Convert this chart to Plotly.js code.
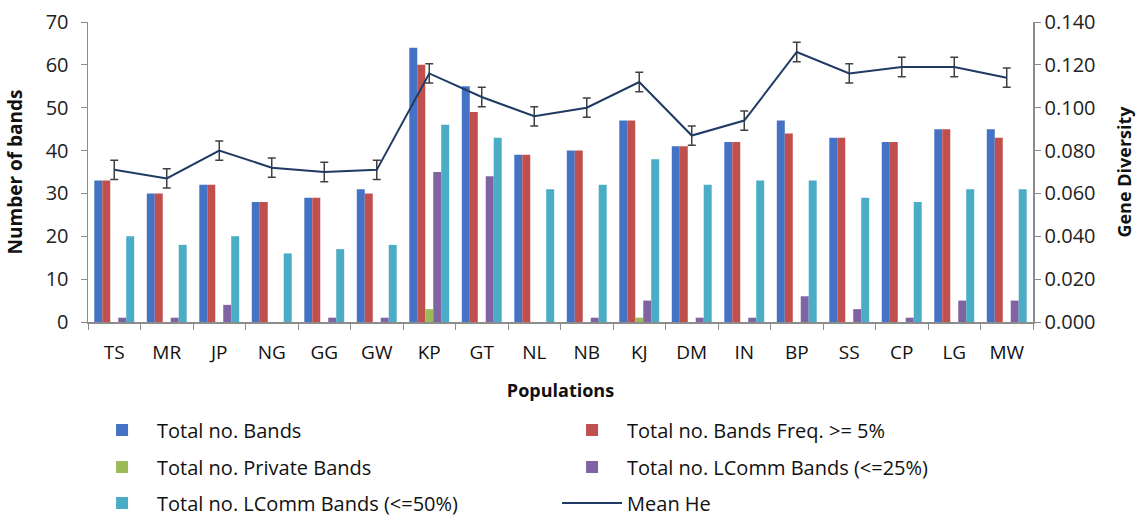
<!DOCTYPE html>
<html><head><meta charset="utf-8">
<script src="https://cdn.plot.ly/plotly-3.0.1.min.js"></script>
<style>body{margin:0;background:#fff}#c{width:1148px;height:519px}</style>
</head><body><div id="c"></div>
<script>
const populations = ["TS","MR","JP","NG","GG","GW","KP","GT","NL","NB","KJ","DM","IN","BP","SS","CP","LG","MW"];
const totalBands   = [33,30,32,28,29,31,64,55,39,40,47,41,42,47,43,42,45,45];
const bandsFreq5   = [33,30,32,28,29,30,60,49,39,40,47,41,42,44,43,42,45,43];
const privateBands = [0,0,0,0,0,0,3,0,0,0,1,0,0,0,0,0,0,0];
const lcomm25      = [1,1,4,0,1,1,35,34,0,1,5,1,1,6,3,1,5,5];
const lcomm50      = [20,18,20,16,17,18,46,43,31,32,38,32,33,33,29,28,31,31];
const meanHe       = [0.071,0.067,0.080,0.072,0.070,0.071,0.116,0.105,0.096,0.100,0.112,0.087,0.094,0.126,0.116,0.119,0.119,0.114];
const heErr        = [0.0045,0.0045,0.0045,0.0045,0.0045,0.0045,0.0045,0.0045,0.0045,0.0045,0.0045,0.0045,0.0045,0.0045,0.0045,0.0045,0.0045,0.0045];

const font = "Open Sans, Noto Sans, sans-serif";
function bar(name, y, color, leg){
  return {type:"bar", name:name, x:populations, y:y, marker:{color:color}, yaxis:"y", legend:leg};
}
const data = [
  bar("Total no. Bands", totalBands, "#4472C4", "legend"),
  bar("Total no. Bands Freq. >= 5%", bandsFreq5, "#C0504D", "legend"),
  bar("Total no. Private Bands", privateBands, "#9BBB59", "legend2"),
  bar("Total no. LComm Bands (<=25%)", lcomm25, "#8064A2", "legend2"),
  bar("Total no. LComm Bands (<=50%)", lcomm50, "#4BACC6", "legend3"),
  {type:"scatter", mode:"lines", name:"Mean He", x:populations, y:meanHe, yaxis:"y2", legend:"legend3",
   line:{color:"#1F3A63", width:2},
   error_y:{type:"data", array:heErr, visible:true, color:"#404040", thickness:1.5, width:4}}
];
const axisCol = "#8C8C8C";
function leg(y){
  return {orientation:"h", x:-0.001, xanchor:"left", y:y, yanchor:"middle",
          entrywidth:395, entrywidthmode:"pixels", traceorder:"normal",
          font:{size:20, color:"#111", family:font}, itemwidth:60, bgcolor:"rgba(0,0,0,0)"};
}
const layout = {
  width:1148, height:519,
  margin:{l:88, r:115, t:22, b:197, autoexpand:false},
  paper_bgcolor:"#fff", plot_bgcolor:"#fff",
  font:{family:font, size:18, color:"#222"},
  barmode:"group", bargap:0.24, bargroupgap:0,
  showlegend:true,
  xaxis:{range:[-0.5,17.5], showline:true, linecolor:axisCol, linewidth:1.5, ticks:"outside", ticklen:6, tickcolor:axisCol,
         tickson:"boundaries", showgrid:false, ticklabelstandoff:13, automargin:false,
         tickfont:{size:19, color:"#111"},
         title:{text:"<b>Populations</b>", font:{size:18, color:"#111"}, standoff:20}},
  yaxis:{range:[0,70], dtick:10, showline:true, linecolor:axisCol, linewidth:1.5, ticks:"outside", ticklen:6,
         tickcolor:axisCol, showgrid:false, zeroline:false, tickfont:{size:20, color:"#222"}, automargin:false,
         ticklabelstandoff:8,
         title:{text:"<b>Number of bands</b>", font:{size:19, color:"#111"}, standoff:18}},
  yaxis2:{range:[0,0.14], dtick:0.02, tickformat:".3f", overlaying:"y", side:"right", showline:true,
          linecolor:axisCol, linewidth:1.5, ticks:"outside", ticklen:6, tickcolor:axisCol, showgrid:false,
          zeroline:false, tickfont:{size:20, color:"#222"}, automargin:false,
          title:{text:"<b>Gene Diversity</b>", font:{size:18, color:"#111"}, standoff:24}},
  legend: leg(-0.36),
  legend2: leg(-0.483),
  legend3: leg(-0.603)
};
Plotly.newPlot("c", data, layout, {displayModeBar:false, staticPlot:true});
</script></body></html>
